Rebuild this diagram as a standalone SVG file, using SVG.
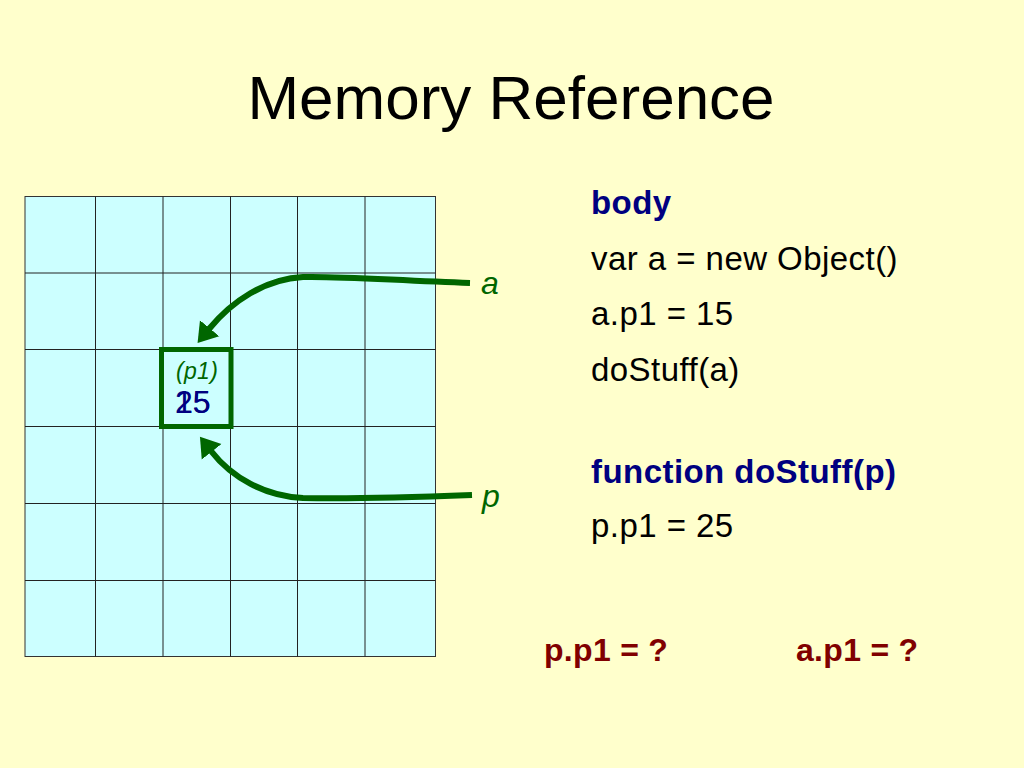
<svg xmlns="http://www.w3.org/2000/svg" width="1024" height="768" viewBox="0 0 1024 768">
<defs>
<style>
.t{font-family:"Liberation Sans",Arial,Helvetica,sans-serif}
.code{font-size:33px;letter-spacing:0.45px;fill:#000}
.hd{font-size:33px;letter-spacing:0.45px;font-weight:bold;fill:#000080}
.q{font-size:32px;letter-spacing:0.3px;font-weight:bold;fill:#800000}
.lbl{font-size:32px;font-style:italic;fill:#006600}
.grid line{stroke:#222;stroke-width:1}
.conn path{fill:none;stroke:#006600;stroke-width:6}
</style>
<marker id="ah" viewBox="0 -13 20 26" refX="1" refY="0" markerWidth="20" markerHeight="26" markerUnits="userSpaceOnUse" orient="auto">
<path d="M0,-12.5 L19,0 L0,12.5 z" fill="#006600"/>
</marker>
</defs>
<rect width="1024" height="768" fill="#FFFFCC"/>
<text class="t" x="511" y="119" font-size="62" text-anchor="middle" fill="#000">Memory Reference</text>
<g id="memory-grid" class="grid">
<rect x="25" y="196.5" width="410.5" height="460" fill="#CCFFFF" stroke="#333" stroke-width="1"/>
<line x1="95.5" y1="196.5" x2="95.5" y2="656.5"/>
<line x1="163" y1="196.5" x2="163" y2="656.5"/>
<line x1="230.5" y1="196.5" x2="230.5" y2="656.5"/>
<line x1="297.5" y1="196.5" x2="297.5" y2="656.5"/>
<line x1="365" y1="196.5" x2="365" y2="656.5"/>
<line x1="25" y1="273" x2="435.5" y2="273"/>
<line x1="25" y1="349.5" x2="435.5" y2="349.5"/>
<line x1="25" y1="426.5" x2="435.5" y2="426.5"/>
<line x1="25" y1="503.5" x2="435.5" y2="503.5"/>
<line x1="25" y1="580.5" x2="435.5" y2="580.5"/>
</g>
<g id="object-cell">
<rect x="161.5" y="349.5" width="69.5" height="77" fill="none" stroke="#006600" stroke-width="5"/>
<text class="t" x="176" y="379" font-size="23" font-style="italic" fill="#006600" letter-spacing="0.3">(p1)</text>
<text class="t" x="175" y="413" font-size="32" fill="#000080">15</text>
<text class="t" x="175" y="413" font-size="32" fill="#000080">25</text>
</g>
<g id="var-a"><text class="t lbl" x="481" y="294">a</text></g>
<g id="var-p"><text class="t lbl" x="482" y="507">p</text></g>
<g id="connectors" class="conn">
<path d="M470 283 C400 281,345 276,303 277 C265 279,232 301,209 329" marker-end="url(#ah)"/>
<path d="M472 495 C420 497,345 499,303 498 C265 496,232 478,211 451" marker-end="url(#ah)"/>
</g>
<g id="code">
<text class="t hd" x="591" y="214">body</text>
<text class="t code" x="591" y="270">var a = new Object()</text>
<text class="t code" x="591" y="325">a.p1 = 15</text>
<text class="t code" x="591" y="381">doStuff(a)</text>
<text class="t hd" x="591" y="483">function doStuff(p)</text>
<text class="t code" x="591" y="537">p.p1 = 25</text>
</g>
<g id="questions">
<text class="t q" x="544" y="661">p.p1 = ?</text>
<text class="t q" x="796" y="661">a.p1 = ?</text>
</g>
</svg>
